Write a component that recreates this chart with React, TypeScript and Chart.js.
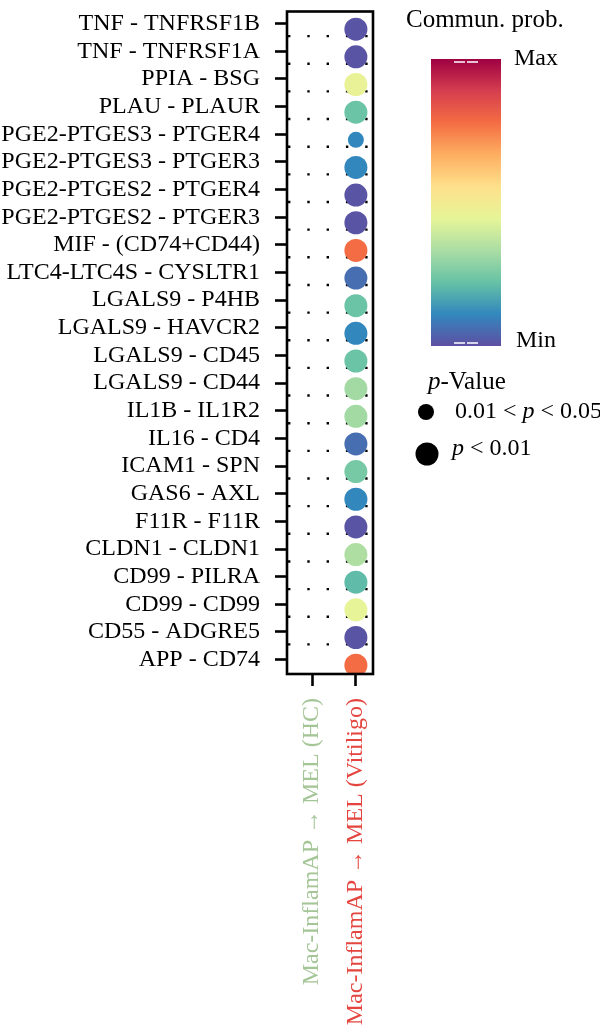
import { useEffect, useRef } from "react";
import { Chart, registerables } from "chart.js";

Chart.register(...registerables);

// Ligand–receptor pairs, top to bottom
const interactions = [
  "TNF - TNFRSF1B",
  "TNF - TNFRSF1A",
  "PPIA - BSG",
  "PLAU - PLAUR",
  "PGE2-PTGES3 - PTGER4",
  "PGE2-PTGES3 - PTGER3",
  "PGE2-PTGES2 - PTGER4",
  "PGE2-PTGES2 - PTGER3",
  "MIF - (CD74+CD44)",
  "LTC4-LTC4S - CYSLTR1",
  "LGALS9 - P4HB",
  "LGALS9 - HAVCR2",
  "LGALS9 - CD45",
  "LGALS9 - CD44",
  "IL1B - IL1R2",
  "IL16 - CD4",
  "ICAM1 - SPN",
  "GAS6 - AXL",
  "F11R - F11R",
  "CLDN1 - CLDN1",
  "CD99 - PILRA",
  "CD99 - CD99",
  "CD55 - ADGRE5",
  "APP - CD74",
];

// Sender → receiver groups along the x axis
const groups = ["Mac-InflamAP → MEL (HC)", "Mac-InflamAP → MEL (Vitiligo)"];
const groupColors = ["#a4c596", "#e4463f"];

// Communication probability, scaled 0 (min) … 1 (max), Vitiligo column
const vitiligoProb = [
  0.01, 0.01, 0.46, 0.23, 0.11, 0.11, 0.01, 0.01, 0.78, 0.06, 0.23, 0.11,
  0.23, 0.32, 0.32, 0.06, 0.25, 0.11, 0.01, 0.34, 0.21, 0.45, 0.01, 0.78,
];

// p-value class: 1 → p < 0.01, 2 → 0.01 < p < 0.05
const vitiligoPClass = [
  1, 1, 1, 1, 2, 1, 1, 1, 1, 1, 1, 1, 1, 1, 1, 1, 1, 1, 1, 1, 1, 1, 1, 1,
];

// HC column: no significant interactions
const hcProb: number[] = [];

// Spectral palette, min → max
const spectral = [
  "#5E4FA2", "#3288BD", "#66C2A5", "#ABDDA4", "#E6F598",
  "#FEE08B", "#FDAE61", "#F46D43", "#D53E4F", "#9E0142",
];

const SERIF = '"Liberation Serif", "Times New Roman", serif';
const TICK_SHIFT = -0.2; // tick marks sit a little above each row's bubble
const SEPARATOR_SHIFT = 0.25;

function hexToRgb(h: string) {
  const n = parseInt(h.slice(1), 16);
  return [(n >> 16) & 255, (n >> 8) & 255, n & 255];
}

function spectralColor(v: number) {
  const t = Math.max(0, Math.min(1, v)) * (spectral.length - 1);
  const i = Math.min(spectral.length - 2, Math.floor(t));
  const f = t - i;
  const a = hexToRgb(spectral[i]);
  const b = hexToRgb(spectral[i + 1]);
  const c = a.map((x, k) => Math.round(x + (b[k] - x) * f));
  return `rgb(${c[0]},${c[1]},${c[2]})`;
}

function radiusFor(pClass: number) {
  return pClass === 1 ? 11.5 : 8;
}

function drawMixed(
  ctx: CanvasRenderingContext2D,
  parts: [string, boolean][],
  x: number,
  y: number,
  size: number
) {
  let cx = x;
  for (const [txt, italic] of parts) {
    ctx.font = `${italic ? "italic " : ""}${size}px ${SERIF}`;
    ctx.fillText(txt, cx, y);
    cx += ctx.measureText(txt).width;
  }
}

const decorations = {
  id: "bubbleDecorations",
  beforeDatasetsDraw(chart: any) {
    const { ctx, chartArea, scales } = chart;
    const y = scales.y;
    ctx.save();
    ctx.strokeStyle = "#000";
    ctx.lineWidth = 2.4;
    ctx.setLineDash([2.4, 16.9]);
    for (let i = 0; i < interactions.length - 1; i++) {
      const py = y.getPixelForValue(i + SEPARATOR_SHIFT);
      ctx.beginPath();
      ctx.moveTo(chartArea.left + 1, py);
      ctx.lineTo(chartArea.right, py);
      ctx.stroke();
    }
    ctx.restore();
  },
  afterDraw(chart: any) {
    const { ctx, chartArea } = chart;
    ctx.save();
    // plot frame
    ctx.strokeStyle = "#000";
    ctx.lineWidth = 2.6;
    ctx.strokeRect(
      chartArea.left,
      chartArea.top,
      chartArea.right - chartArea.left,
      chartArea.bottom - chartArea.top
    );

    // colour bar
    const barX = 431, barTop = 59, barW = 70, barBottom = 346;
    const grad = ctx.createLinearGradient(0, barBottom, 0, barTop);
    spectral.forEach((c, i) => grad.addColorStop(i / (spectral.length - 1), c));
    ctx.fillStyle = grad;
    ctx.fillRect(barX, barTop, barW, barBottom - barTop);
    ctx.strokeStyle = "#fff";
    ctx.lineWidth = 1.5;
    for (const ty of [barTop + 3, barBottom - 3]) {
      ctx.beginPath();
      ctx.moveTo(454, ty);
      ctx.lineTo(465, ty);
      ctx.moveTo(467, ty);
      ctx.lineTo(478, ty);
      ctx.stroke();
    }

    ctx.fillStyle = "#000";
    ctx.textBaseline = "alphabetic";
    ctx.textAlign = "left";
    ctx.font = `25px ${SERIF}`;
    ctx.fillText("Commun. prob.", 406, 27);
    ctx.font = `24px ${SERIF}`;
    ctx.fillText("Max", 514, 65);
    ctx.fillText("Min", 516, 347);

    // p-value size legend
    drawMixed(ctx, [["p", true], ["-Value", false]], 428, 389, 25);
    ctx.beginPath();
    ctx.arc(426, 412, radiusFor(2), 0, Math.PI * 2);
    ctx.fill();
    ctx.beginPath();
    ctx.arc(427, 454, radiusFor(1), 0, Math.PI * 2);
    ctx.fill();
    drawMixed(
      ctx,
      [["0.01 < ", false], ["p", true], [" < 0.05", false]],
      455,
      418,
      24
    );
    drawMixed(ctx, [["p", true], [" < 0.01", false]], 452, 455, 24);
    ctx.restore();
  },
};

export default function App() {
  const canvasRef = useRef<HTMLCanvasElement | null>(null);

  useEffect(() => {
    document.body.style.margin = "0";
    const canvas = canvasRef.current;
    if (!canvas) return;

    const chart = new Chart(canvas, {
      type: "scatter",
      data: {
        datasets: [
          {
            label: groups[0],
            data: hcProb.map((p, i) => ({ x: 0, y: i })),
          },
          {
            label: groups[1],
            data: vitiligoProb.map((p, i) => ({ x: 1, y: i })),
            pointRadius: (c: any) => radiusFor(vitiligoPClass[c.dataIndex]),
            pointHoverRadius: (c: any) => radiusFor(vitiligoPClass[c.dataIndex]),
            backgroundColor: (c: any) => spectralColor(vitiligoProb[c.dataIndex]),
            borderWidth: 0,
          },
        ],
      },
      options: {
        responsive: false,
        animation: false,
        devicePixelRatio: 1,
        layout: { padding: { top: 1, right: 227, left: 0, bottom: 0 } },
        plugins: {
          legend: { display: false },
          tooltip: { enabled: false },
        },
        scales: {
          x: {
            type: "linear",
            min: -0.57,
            max: 1.39,
            bounds: "data",
            afterBuildTicks: (s: any) => {
              s.ticks = groups.map((_, i) => ({ value: i }));
            },
            afterFit: (s: any) => {
              s.height = 361;
              s.paddingLeft = 0;
              s.paddingRight = 0;
            },
            grid: {
              drawOnChartArea: false,
              drawTicks: true,
              tickLength: 12,
              tickWidth: 2.6,
              tickColor: "#000",
            },
            border: { display: false },
            ticks: {
              autoSkip: false,
              minRotation: 90,
              maxRotation: 90,
              padding: 12,
              font: { family: SERIF, size: 24 },
              color: (c: any) => groupColors[c.index] || "#000",
              callback: (_v: any, i: number) => groups[i],
            },
          },
          y: {
            type: "linear",
            reverse: true,
            min: -0.64,
            max: 23.32,
            bounds: "data",
            afterBuildTicks: (s: any) => {
              s.ticks = interactions.map((_, i) => ({ value: i + TICK_SHIFT }));
            },
            afterFit: (s: any) => {
              s.width = 287;
              s.paddingTop = 0;
              s.paddingBottom = 0;
            },
            grid: {
              drawOnChartArea: false,
              drawTicks: true,
              tickLength: 12,
              tickWidth: 2.6,
              tickColor: "#000",
            },
            border: { display: false },
            ticks: {
              autoSkip: false,
              padding: 15,
              color: "#000",
              font: { family: SERIF, size: 24 },
              callback: (_v: any, i: number) => interactions[i],
            },
          },
        },
      },
      plugins: [decorations],
    } as any);

    return () => chart.destroy();
  }, []);

  return (
    <canvas
      ref={canvasRef}
      width={600}
      height={1035}
      style={{ display: "block", width: 600, height: 1035 }}
    />
  );
}
